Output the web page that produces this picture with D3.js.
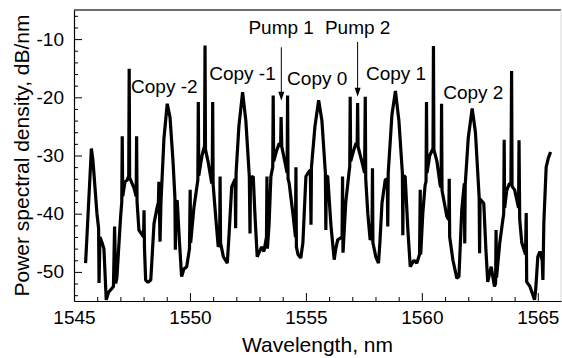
<!DOCTYPE html>
<html><head><meta charset="utf-8">
<script src="https://cdn.jsdelivr.net/npm/d3@7"></script>
<style>
html,body{margin:0;padding:0;background:#fff;}
svg{display:block;}
text{font-family:"Liberation Sans",Arial,sans-serif;}
</style></head>
<body><svg id="c" width="562" height="358"></svg>
<script>
const wavelength = [1545.50,1545.75,1545.82,1545.99,1546.06,1546.08,1546.12,1546.22,1546.29,1546.39,1546.49,1546.58,1546.70,1546.75,1546.80,1546.85,1547.01,1547.06,1547.08,1547.10,1547.20,1547.30,1547.36,1547.38,1547.40,1547.59,1547.68,1547.70,1547.72,1547.80,1548.00,1548.02,1548.04,1548.09,1548.19,1548.31,1548.36,1548.45,1548.58,1548.64,1548.66,1548.71,1548.75,1548.88,1549.02,1549.14,1549.27,1549.35,1549.37,1549.40,1549.45,1549.55,1549.64,1549.74,1549.86,1549.98,1550.01,1550.03,1550.17,1550.34,1550.36,1550.38,1550.52,1550.62,1550.63,1550.65,1550.67,1550.78,1550.94,1550.96,1550.98,1551.00,1551.12,1551.22,1551.28,1551.30,1551.32,1551.44,1551.61,1551.68,1551.80,1551.95,1551.97,1551.99,1552.11,1552.27,1552.41,1552.56,1552.59,1552.61,1552.73,1552.80,1552.90,1553.00,1553.09,1553.19,1553.30,1553.32,1553.34,1553.41,1553.49,1553.57,1553.59,1553.61,1553.75,1553.85,1553.91,1553.93,1553.96,1554.09,1554.19,1554.21,1554.23,1554.28,1554.44,1554.55,1554.57,1554.59,1554.66,1554.78,1554.87,1555.00,1555.09,1555.19,1555.22,1555.24,1555.39,1555.55,1555.69,1555.84,1555.86,1555.88,1555.94,1556.08,1556.22,1556.29,1556.37,1556.56,1556.58,1556.60,1556.72,1556.87,1556.89,1556.91,1556.93,1557.07,1557.16,1557.21,1557.23,1557.25,1557.41,1557.53,1557.56,1557.58,1557.67,1557.77,1557.85,1557.87,1557.89,1558.02,1558.13,1558.19,1558.28,1558.42,1558.51,1558.53,1558.55,1558.71,1558.86,1559.01,1559.16,1559.18,1559.20,1559.28,1559.40,1559.50,1559.66,1559.78,1559.90,1559.93,1559.95,1560.04,1560.14,1560.18,1560.20,1560.22,1560.34,1560.48,1560.50,1560.52,1560.65,1560.79,1560.83,1560.85,1560.87,1561.08,1561.16,1561.18,1561.20,1561.34,1561.51,1561.60,1561.72,1561.83,1561.85,1561.87,1562.00,1562.17,1562.31,1562.47,1562.49,1562.51,1562.67,1562.76,1562.84,1562.99,1563.13,1563.18,1563.20,1563.22,1563.36,1563.49,1563.53,1563.55,1563.57,1563.66,1563.78,1563.84,1563.87,1563.89,1564.00,1564.17,1564.19,1564.22,1564.31,1564.47,1564.50,1564.52,1564.66,1564.86,1564.91,1565.00,1565.09,1565.19,1565.22,1565.26,1565.36,1565.45,1565.55];
const power = [-48.5,-28.8,-31,-40,-42.5,-51.9,-44,-45.1,-46,-54.8,-53.5,-53.1,-52.5,-42.2,-52,-51,-40.5,-38,-26.7,-37,-34.5,-34.2,-33.5,-15.1,-33.8,-35.6,-37,-26.7,-38,-42.8,-44,-39.4,-46,-51.4,-51.8,-51.4,-48,-41.7,-39,-38,-34.5,-44.8,-38,-27,-21.1,-23.4,-31,-37.1,-46.2,-38,-37.7,-45,-50.8,-49.5,-49.1,-46,-35.9,-45,-39,-34.2,-20.8,-33.5,-30,-28.5,-28.4,-11.1,-29,-31,-34.8,-34.5,-20.8,-35,-41,-45.7,-45,-33.6,-45,-47.4,-48.5,-44,-35.4,-34,-42.5,-33,-25,-19.1,-24,-33.6,-43.4,-33.8,-33.6,-40,-47.4,-46.5,-45.7,-46.5,-44,-33.6,-46,-42,-33.6,-32,-19.7,-31,-29,-27.9,-28.5,-23.4,-28.5,-31,-33,-19.7,-34,-34.8,-40,-44,-32,-45.7,-47,-47.6,-45,-33.6,-33,-32.5,-41.9,-32,-25,-20.5,-24,-33,-42.8,-33.5,-33.6,-42,-47.9,-46,-44.5,-44,-33.6,-46.7,-38,-32.5,-32,-19.9,-31,-29,-27.9,-28,-21,-28.5,-31,-33,-19.9,-34,-40,-44.5,-44,-32.2,-45,-47.5,-48.5,-45,-38.2,-34.2,-34,-42.2,-33,-23,-18.9,-24,-33,-43.7,-33.5,-33.6,-43,-49.1,-48,-48.5,-47,-35.9,-47,-40,-35.1,-34.5,-20.8,-33,-30,-28.8,-11.2,-29,-31,-35.1,-35.5,-21.1,-36,-40.5,-41,-34,-44,-48,-51.1,-50.8,-39.4,-34.8,-45.1,-35,-27,-21.9,-26,-37.1,-46.8,-37.5,-38.2,-46,-51.7,-49.1,-52.5,-52,-42.8,-51,-45,-41.1,-40,-27.3,-39,-36,-34.8,-35,-15.5,-35.3,-35.9,-39,-27.4,-41,-45,-47,-39.9,-51.7,-52.5,-54.8,-53,-47.4,-46.5,-48,-51.4,-41.6,-32,-30.5,-29.4];

const xTicks = [1545, 1550, 1555, 1560, 1565];
const yTicks = [-10, -20, -30, -40, -50];
const xDomain = [1545, 1566];
const yDomain = [-55, -5];

const labelText = ["Copy -2", "Copy -1", "Copy 0", "Copy 1", "Copy 2", "Pump 1", "Pump 2"];
const labelX = [1547.46, 1550.83, 1554.19, 1557.59, 1560.92, 1552.52, 1555.82];
const labelY = [-19.3, -17.1, -17.9, -17.1, -20.3, -9.1, -9.1];

const arrowX = [1553.94, 1557.23];
const arrowTop = [-11.4, -10.5];
const arrowTip = [-20.6, -19.9];

const svg = d3.select("#c");
const L = 74, R = 561, T = 10, B = 301;
const x = d3.scaleLinear().domain(xDomain).range([L, R]);
const y = d3.scaleLinear().domain(yDomain).range([B, T]);

// frame top/right
svg.append("line").attr("x1", L).attr("x2", R).attr("y1", T).attr("y2", T)
  .attr("stroke", "#6e6e6e").attr("stroke-width", 2);
svg.append("line").attr("x1", R).attr("x2", R).attr("y1", T).attr("y2", B)
  .attr("stroke", "#d8d8d8").attr("stroke-width", 1);

// clip
svg.append("clipPath").attr("id", "clip").append("rect")
  .attr("x", L).attr("y", T).attr("width", R - L).attr("height", B - T);

const line = d3.line().x(d => x(d[0])).y(d => y(d[1]));
const pts = wavelength.map((w, i) => [w, power[i]]);
svg.append("path").datum(pts).attr("d", line)
  .attr("clip-path", "url(#clip)")
  .attr("fill", "none").attr("stroke", "#000").attr("stroke-width", 3.2)
  .attr("stroke-linejoin", "bevel");

// axes
const xMinor = d3.range(1546, 1566, 1).filter(v => v % 5 !== 0);
const yMinor = d3.range(-54, -5, 2).filter(v => v % 10 !== 0);

const gx = svg.append("g").attr("transform", `translate(0,${B})`);
gx.call(d3.axisBottom(x).tickValues(xMinor).tickSizeInner(-4).tickSizeOuter(0).tickFormat(""));
gx.call(g => g.selectAll(".domain").remove());
const gx2 = svg.append("g").attr("transform", `translate(0,${B})`)
  .call(d3.axisBottom(x).tickValues(xTicks).tickSizeInner(-8).tickSizeOuter(0).tickPadding(10).tickFormat(d3.format("d")));
gx2.selectAll("text").attr("font-size", 19).attr("fill", "#000").attr("font-family", "Liberation Sans, Arial, sans-serif");

const gy = svg.append("g").attr("transform", `translate(${L},0)`);
gy.call(d3.axisLeft(y).tickValues(yMinor).tickSizeInner(-4).tickSizeOuter(0).tickFormat(""));
gy.call(g => g.selectAll(".domain").remove());
const gy2 = svg.append("g").attr("transform", `translate(${L},0)`)
  .call(d3.axisLeft(y).tickValues(yTicks).tickSizeInner(-8).tickSizeOuter(0).tickPadding(10).tickFormat(d => d));
gy2.selectAll("text").attr("font-size", 19).attr("fill", "#000").attr("font-family", "Liberation Sans, Arial, sans-serif");
svg.selectAll(".domain").attr("stroke", "#000").attr("stroke-width", 1.2);
svg.selectAll(".tick line").attr("stroke", "#000");

// axis titles
svg.append("text").attr("x", (L + R) / 2).attr("y", 351.5).attr("text-anchor", "middle")
  .attr("font-size", 21).text("Wavelength, nm");
svg.append("text").attr("transform", `translate(28.5,${(T + B) / 2}) rotate(-90)`)
  .attr("text-anchor", "middle").attr("font-size", 21).text("Power spectral density, dB/nm");

// annotations
labelText.forEach((t, i) => {
  svg.append("text").attr("x", x(labelX[i])).attr("y", y(labelY[i]))
    .attr("font-size", 19).text(t);
});
arrowX.forEach((a, i) => {
  const xp = x(a), y0 = y(arrowTop[i]), y1 = y(arrowTip[i]);
  svg.append("line").attr("x1", xp).attr("x2", xp).attr("y1", y0).attr("y2", y1 - 8)
    .attr("stroke", "#000").attr("stroke-width", 1);
  svg.append("path").attr("d", `M${xp - 3},${y1 - 9} L${xp + 3},${y1 - 9} L${xp},${y1} Z`).attr("fill", "#000");
});
</script></body></html>
